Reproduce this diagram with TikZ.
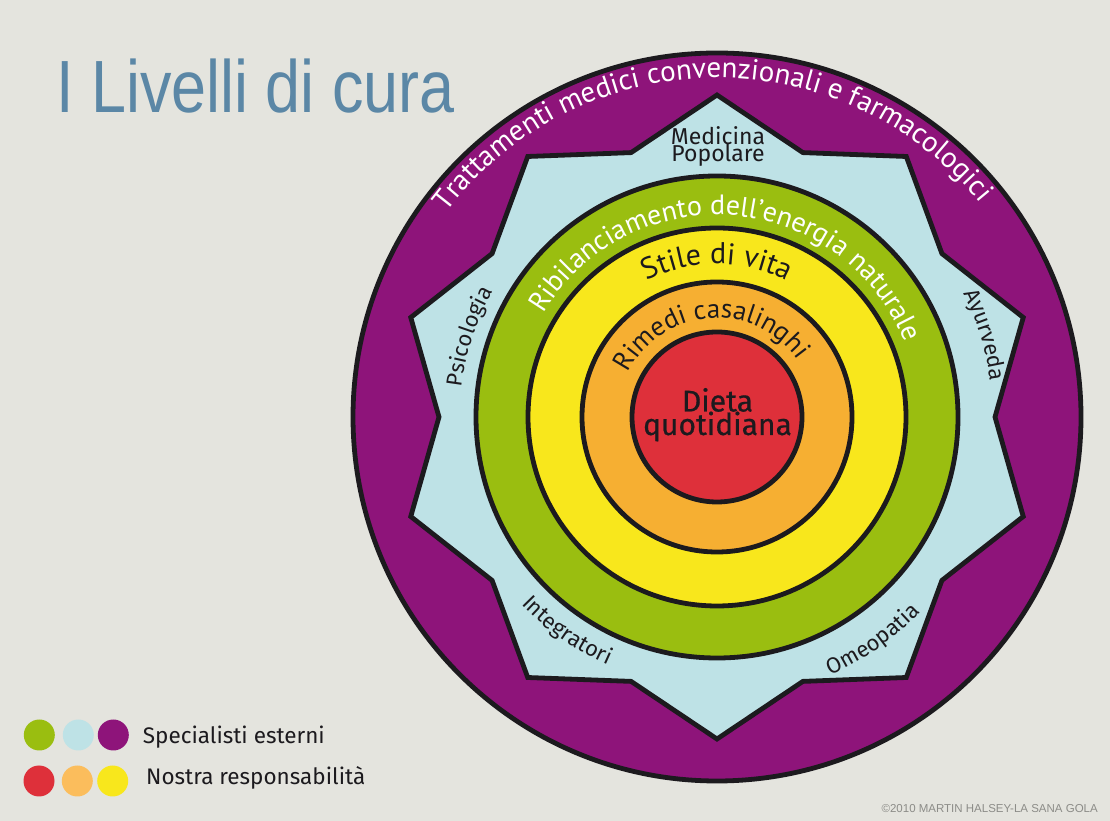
\documentclass[tikz,border=0pt]{standalone}
\usepackage{fontspec}
\usepackage{graphicx}
\usetikzlibrary{decorations.text}
\newfontfamily\ringfont{PT Sans}
\newfontfamily\dinfont{Fira Sans}
\newfontfamily\titlefont{Liberation Sans}
\definecolor{bg}{RGB}{228,228,222}
\definecolor{ink}{RGB}{28,26,30}
\definecolor{purp}{RGB}{142,20,122}
\definecolor{lblue}{RGB}{190,226,230}
\definecolor{lgreen}{RGB}{154,190,16}
\definecolor{lyellow}{RGB}{248,231,28}
\definecolor{lorange}{RGB}{246,175,50}
\definecolor{legorange}{RGB}{251,189,92}
\definecolor{lred}{RGB}{222,48,58}
\definecolor{titleblue}{RGB}{91,135,166}
\definecolor{copygrey}{RGB}{140,140,136}
\begin{document}
\begin{tikzpicture}[x=1pt,y=1pt,
  ring/.style={line width=4.8pt, draw=ink, line join=miter},
  dot/.style={circle, inner sep=0pt, minimum size=31pt},
  legtext/.style={anchor=base west, inner sep=0pt, text=ink, font=\dinfont\fontsize{22.5}{26}\selectfont},
  label/.style={anchor=base, inner sep=0pt, text=ink}]
\useasboundingbox (0,0) rectangle (1110,821);
\fill[bg] (0,0) rectangle (1110,821);
% title
\node[anchor=base west, inner sep=0pt, text=titleblue] (title) at (56,708.5)
  {\scalebox{0.85}[1]{\titlefont\fontsize{74}{80}\selectfont I Livelli di cura}};
% diagram
\begin{scope}[shift={(717,404)}]
  \path[ring, fill=purp] (0,0) circle[radius=364];
  \path[ring, fill=lblue] (90:322) -- (108:278) -- (126:322) -- (144:278) -- (162:322) -- (180:278)
    -- (198:322) -- (216:278) -- (234:322) -- (252:278) -- (270:322) -- (288:278) -- (306:322)
    -- (324:278) -- (342:322) -- (0:278) -- (18:322) -- (36:278) -- (54:322) -- (72:278) -- cycle;
  \path[ring, fill=lgreen] (0,0) circle[radius=241];
  \path[ring, fill=lyellow] (0,0) circle[radius=189];
  \path[ring, fill=lorange] (0,0) circle[radius=135];
  \path[ring, fill=lred] (0,0) circle[radius=85];
  % curved texts
  \path[decorate, decoration={text along path, text align=center,
    text={|\ringfont\fontsize{29}{34}\selectfont\color{white}|Trattamenti medici convenzionali e  farmacologici}}]
    (161:339) arc[start angle=161, end angle=21, radius=339];
  \path[decorate, decoration={text along path, text align=center,
    text={|\ringfont\fontsize{28}{33}\selectfont\color{white}|Ribilanciamento dell’energia naturale}}]
    (160:202) arc[start angle=160, end angle=11, radius=202];
  \path[decorate, decoration={text along path, text align=center,
    text={|\ringfont\fontsize{30}{35}\selectfont\color{ink}|Stile di vita}}]
    (130:153) arc[start angle=130, end angle=50, radius=153];
  \path[decorate, decoration={text along path, text align=center,
    text={|\ringfont\fontsize{27}{32}\selectfont\color{ink}|Rimedi casalinghi}}]
    (175:99) arc[start angle=175, end angle=14, radius=99];
  \path[decorate, decoration={text along path, text align=center,
    text={|\dinfont\fontsize{22}{26}\selectfont\color{ink}|Psicologia}}]
    (192:257) arc[start angle=192, end angle=132, radius=257];
  \path[decorate, decoration={text along path, text align=center,
    text={|\dinfont\fontsize{22}{26}\selectfont\color{ink}|Ayurveda}}]
    (47:276) arc[start angle=47, end angle=-13, radius=276];
  \path[decorate, decoration={text along path, text align=center,
    text={|\dinfont\fontsize{22}{26}\selectfont\color{ink}|Integratori}}]
    (205:271) arc[start angle=205, end angle=265, radius=271];
  \path[decorate, decoration={text along path, text align=center,
    text={|\dinfont\fontsize{22}{26}\selectfont\color{ink}|Omeopatia}}]
    (275:282) arc[start angle=275, end angle=335, radius=282];
  % straight labels
  \node[label, font=\dinfont\fontsize{23}{26}\selectfont] (med) at (1,272) {Medicina};
  \node[label, font=\dinfont\fontsize{23}{26}\selectfont] (pop) at (1,255) {Popolare};
  \node[label, font=\dinfont\fontsize{30}{34}\selectfont\addfontfeatures{FakeBold=0.6}] (dieta) at (0.5,5.5) {Dieta};
  \node[label, font=\dinfont\fontsize{30}{34}\selectfont\addfontfeatures{FakeBold=0.6}] (quot) at (0.5,-18) {quotidiana};
\end{scope}
% legend
\node[dot, fill=lgreen] (l1) at (39.3,86) {};
\node[dot, fill=lblue] (l2) at (78.3,86) {};
\node[dot, fill=purp] (l3) at (113.3,86) {};
\node[dot, fill=lred] (l4) at (39,40) {};
\node[dot, fill=legorange] (l5) at (77.3,40) {};
\node[dot, fill=lyellow] (l6) at (112.7,40) {};
\node[legtext] (spec) at (142.7,77.7) {Specialisti esterni};
\node[legtext] (nostra) at (146,36) {Nostra responsabilità};
% copyright
\node[anchor=base east, inner sep=0pt, text=copygrey, font=\titlefont\fontsize{11.5}{13}\selectfont] (copy) at (1098,8) {©2010 MARTIN HALSEY-LA SANA GOLA};
\end{tikzpicture}
\end{document}
